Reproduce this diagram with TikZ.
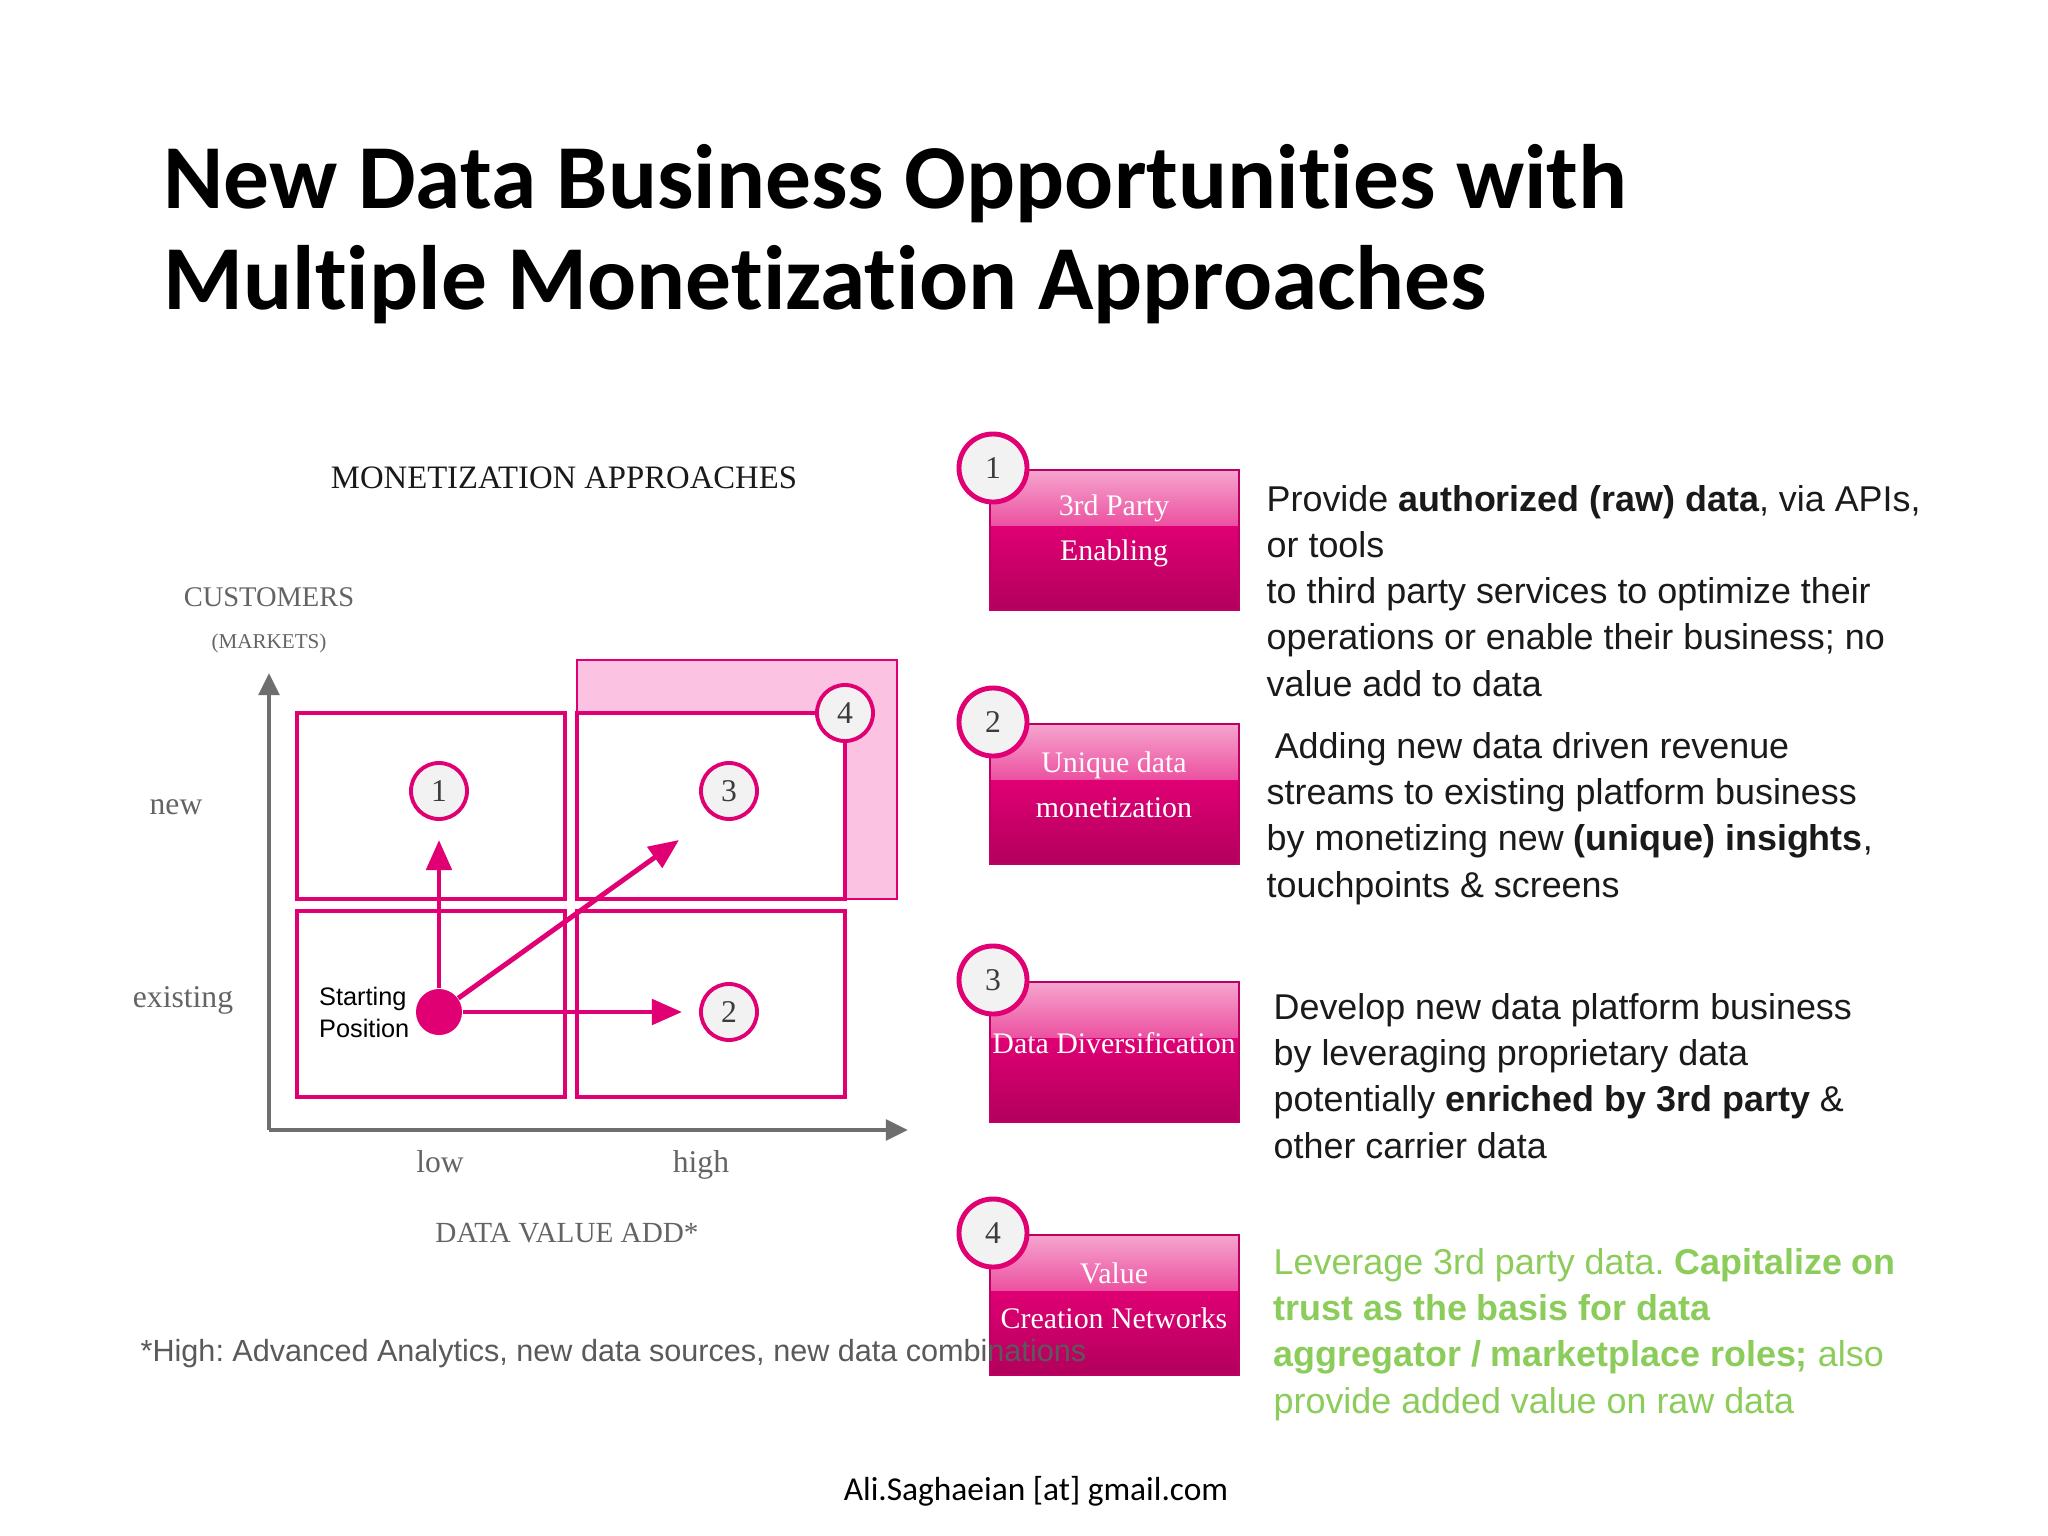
\documentclass[tikz,border=0pt]{standalone}
\usepackage{fontspec}
\setmainfont{Liberation Serif}
\newfontfamily\arialFont{Liberation Sans}
\newfontfamily\calibriFont[Ligatures=NoCommon]{Carlito}
\usetikzlibrary{arrows.meta}
\frenchspacing
\definecolor{magentaColor}{RGB}{224,0,116}
\definecolor{pinkShade}{RGB}{251,194,226}
\definecolor{axisColor}{RGB}{110,110,110}
\definecolor{labelColor}{RGB}{100,100,100}
\definecolor{numberColor}{RGB}{60,60,60}
\definecolor{circleFill}{RGB}{242,242,242}
\definecolor{boxTop}{RGB}{245,165,206}
\definecolor{boxGloss}{RGB}{236,80,160}
\definecolor{boxMid}{RGB}{224,0,116}
\definecolor{boxBottom}{RGB}{178,0,92}
\definecolor{boxEdge}{RGB}{190,0,100}
\definecolor{greenText}{RGB}{140,204,90}
\definecolor{bodyText}{RGB}{26,26,26}
\definecolor{noteText}{RGB}{90,90,90}
\tikzstyle{slide} = [x = 0.01cm, y = -0.01cm]
\tikzstyle{cellStyle} = [draw=magentaColor, fill=white, line width=1.4pt]
\tikzstyle{shadeStyle} = [draw=magentaColor, fill=pinkShade, line width=0.5pt]
\tikzstyle{smallCircle} = [circle, draw=magentaColor, fill=circleFill, line width=1.1pt, minimum size=0.56cm, inner sep=0pt, text=numberColor, font=\fontsize{9}{10}\selectfont]
\tikzstyle{bigCircle} = [circle, draw=magentaColor, fill=circleFill, line width=1.4pt, minimum size=0.68cm, inner sep=0pt, text=numberColor, font=\fontsize{9}{10}\selectfont]
\tikzstyle{startDot} = [circle, fill=magentaColor, minimum size=0.46cm, inner sep=0pt]
\tikzstyle{moveArrow} = [draw=magentaColor, line width=1.4pt, -{Triangle[length=0.3cm, width=0.25cm]}]
\tikzstyle{axisArrow} = [draw=axisColor, line width=1.4pt, -{Triangle[length=0.22cm, width=0.2cm]}]
\tikzstyle{axisLabel} = [text=labelColor, inner sep=0pt, font=\fontsize{9}{10}\selectfont]
\tikzstyle{boxBorder} = [draw=boxEdge, line width=0.5pt]
\tikzstyle{boxText} = [text=white, align=center, font=\fontsize{8.5}{12.8}\selectfont]
\tikzstyle{bodyStyle} = [anchor=base west, align=left, inner sep=0pt, text=bodyText, font=\arialFont\fontsize{10.2}{13.15}\selectfont]
\newcommand{\quadrantCell}[2]{\filldraw [cellStyle] (#1, #2) rectangle + (268, 186);}
\newcommand{\stepCircle}[3]{\node [smallCircle] (#1) at (#2) {#3};}
\newcommand{\approachBox}[4]{
  \shade [top color=boxTop, bottom color=boxGloss] (990, #2) rectangle + (249, 56);
  \shade [top color=boxMid, bottom color=boxBottom] (990, #2 + 56) rectangle + (249, 84);
  \draw [boxBorder] (990, #2) rectangle + (249, 140);
  \node [boxText] (#1Label) at (1114, #2 + 61) {#4};
  \node [bigCircle] (#1Number) at (993, #2 - 2) {#3};
}
\begin{document}
\begin{tikzpicture}[slide]
  \useasboundingbox [fill=white] (0, 0) rectangle (2048, 1536);
  \node [anchor=base west, align=left, inner sep=0pt, font=\calibriFont\bfseries\fontsize{26}{28.7}\selectfont] (title) at (163, 309) {New Data Business Opportunities with\\Multiple Monetization Approaches};

  \node [inner sep=0pt, text=bodyText, font=\fontsize{9.3}{10}\selectfont] (chartTitle) at (564, 478) {MONETIZATION APPROACHES};
  \node [axisLabel, font=\fontsize{8.1}{10}\selectfont] (customers) at (269, 597) {CUSTOMERS};
  \node [axisLabel, font=\fontsize{6}{8}\selectfont] (markets) at (269, 643) {(MARKETS)};
  \node [axisLabel] (newLabel) at (176, 807) {new};
  \node [axisLabel] (existingLabel) at (183, 1000) {existing};
  \node [axisLabel, anchor=base] (lowLabel) at (440, 1172) {low};
  \node [axisLabel, anchor=base] (highLabel) at (701, 1172) {high};
  \node [axisLabel, font=\fontsize{8.3}{10}\selectfont] (valueAdd) at (567, 1233) {DATA VALUE ADD*};

  \filldraw [shadeStyle] (577, 660) rectangle (897, 899);
  \quadrantCell{297}{713}
  \quadrantCell{577}{713}
  \quadrantCell{297}{911}
  \quadrantCell{577}{911}
  \stepCircle{stepFour}{845, 713}{4}

  \node [startDot] (start) at (439, 1012) {};
  \coordinate (upTip) at (439, 840);
  \coordinate (rightTip) at (682, 1012);
  \coordinate (diagTip) at (679, 840);
  \draw [moveArrow] (start) -- (upTip);
  \draw [moveArrow] (start) -- (rightTip);
  \draw [moveArrow] (start) -- (diagTip);
  \stepCircle{stepOne}{439, 791}{1}
  \stepCircle{stepThree}{729, 791}{3}
  \stepCircle{stepTwo}{729, 1012}{2}
  \node [anchor=east, align=left, inner sep=0pt, font=\arialFont\fontsize{7.2}{9.1}\selectfont] (startLabel) at (410, 1012) {Starting\\Position};

  \coordinate (origin) at (269, 1130);
  \coordinate (yTip) at (269, 673);
  \coordinate (xTip) at (908, 1130);
  \draw [axisArrow] (origin) -- (yTip);
  \draw [axisArrow] (origin) -- (xTip);

  \approachBox{enabling}{470}{1}{3rd Party\\Enabling}
  \approachBox{unique}{724}{2}{Unique data\\monetization}
  \approachBox{diversification}{982}{3}{Data Diversification}
  \approachBox{network}{1235}{4}{Value\\Creation Networks}

  \node [bodyStyle] (enablingText) at (1266, 696) {Provide \textbf{authorized (raw) data}, via APIs,\\or tools\\to third party services to optimize their\\operations or enable their business; no\\value add to data};
  \node [bodyStyle] (uniqueText) at (1266, 897) {\hspace{2.3pt}Adding new data driven revenue\\streams to existing platform business\\by monetizing new \textbf{(unique) insights},\\touchpoints \& screens};
  \node [bodyStyle] (diversificationText) at (1273, 1158) {Develop new data platform business\\by leveraging proprietary data\\potentially \textbf{enriched by 3rd party} \&\\other carrier data};
  \node [bodyStyle, text=greenText] (networkText) at (1273, 1413) {Leverage 3rd party data. \textbf{Capitalize on}\\\textbf{trust as the basis for data}\\\textbf{aggregator / marketplace roles;} also\\provide added value on raw data};

  \node [anchor=west, inner sep=0pt, text=noteText, font=\arialFont\fontsize{8.7}{10}\selectfont] (footnote) at (140, 1354) {*High: Advanced Analytics, new data sources, new data combinations};
  \node [inner sep=0pt, font=\calibriFont\fontsize{9.5}{11}\selectfont] (footer) at (1036, 1491) {Ali.Saghaeian [at] gmail.com};
\end{tikzpicture}
\end{document}
